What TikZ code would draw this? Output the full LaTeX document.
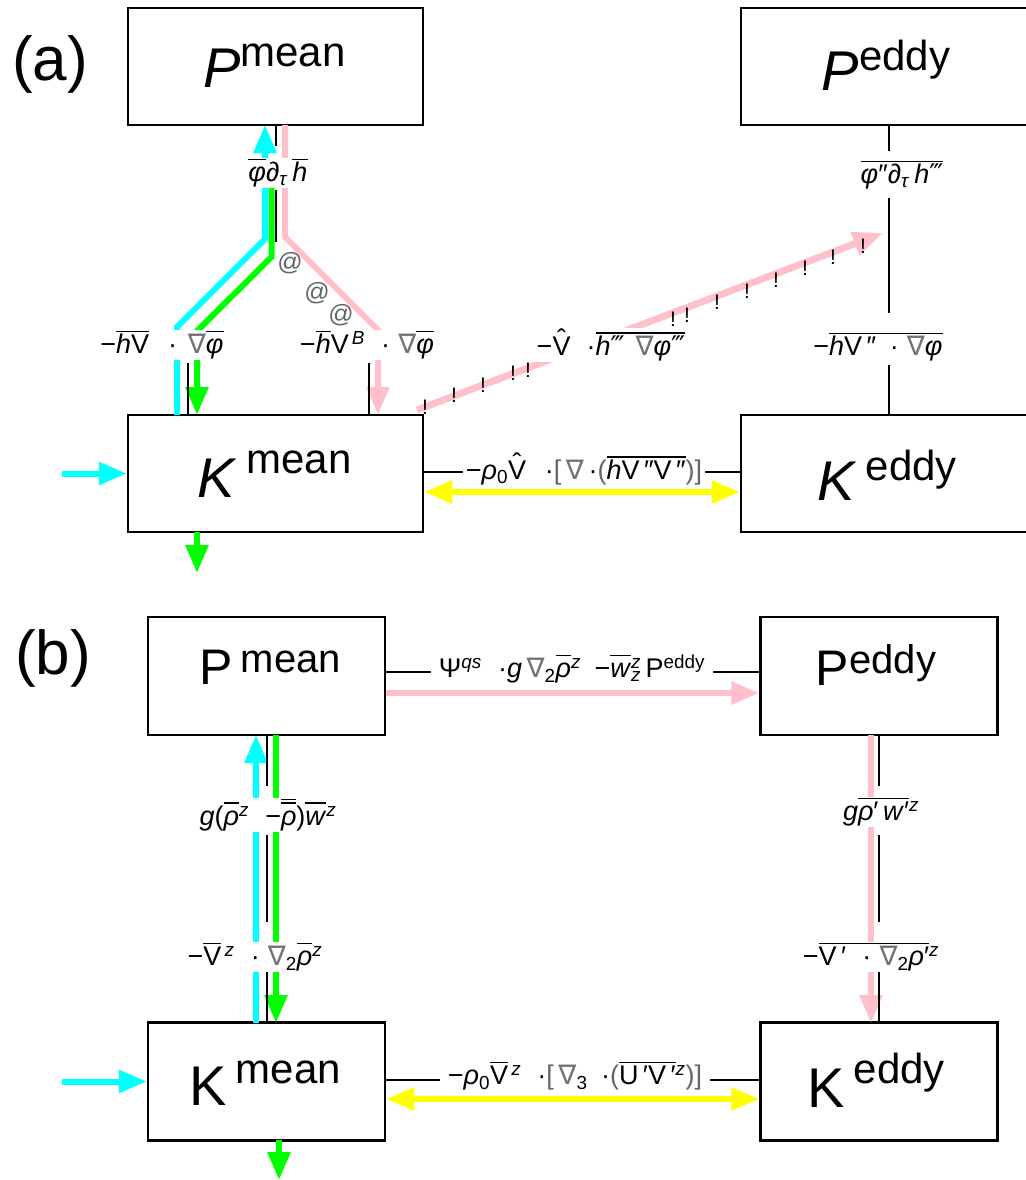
\documentclass[tikz,border=0pt]{standalone}
\usepackage{amsmath}
\usepackage{fontspec}
\setmainfont{Liberation Sans}
\newfontfamily\djfont{DejaVu Sans}
\usetikzlibrary{arrows.meta}
\definecolor{mycyan}{RGB}{0,255,255}
\definecolor{mygreen}{RGB}{0,255,0}
\definecolor{mypink}{RGB}{255,192,203}
\definecolor{myyellow}{RGB}{255,255,0}
\newcommand\ov[1]{\leavevmode\vbox{\hrule height 1.6pt\kern 2pt\hbox{\vphantom{hV}#1}}}
\newcommand\dov[1]{\leavevmode\vbox{\hrule height 1.6pt\kern 2pt\hbox{\ov{#1}}}}
\newcommand\hatv{\leavevmode\rlap{\hbox to 0.667em{\hss\raisebox{0.24em}{ˆ}\hss}}V}
\newcommand\nab{{\djfont\color{black!55}∇}}
\newcommand\tp{{\djfont ‴}}
\newcommand\BigSz{\fontsize{56}{60}\selectfont}
\newcommand\BigSzB{\fontsize{50}{54}\selectfont}
\newcommand\SupSz{\fontsize{42}{44}\selectfont}
\newcommand\SupSzB{\fontsize{40}{44}\selectfont}
\newcommand\LblSz{\fontsize{27}{30}\selectfont}
\begin{document}
\begin{tikzpicture}[x=1pt,y=-1pt,
  boxa/.style={draw,line width=2.5pt,minimum width=295pt,minimum height=117pt,inner sep=0pt},
  boxb/.style={draw,line width=2.5pt,minimum width=237pt,minimum height=118pt,inner sep=0pt},
  bigtext/.style={anchor=base,inner sep=0pt},
  lab/.style={fill=white,inner xsep=3pt,inner ysep=1pt,font=\LblSz},
  conn/.style={line width=2pt},
  flow/.style={line width=6pt,-{Triangle[length=28pt,width=22pt]}},
  flowtwo/.style={line width=6pt,{Triangle[length=28pt,width=22pt]}-{Triangle[length=28pt,width=22pt]}},
  bang/.style={font=\fontsize{21}{22}\selectfont,inner sep=0pt},
  atsign/.style={font=\fontsize{25}{26}\selectfont,text=black!60,inner sep=0pt},
  titletext/.style={font=\fontsize{62}{64}\selectfont,inner sep=0pt}
]
\useasboundingbox (0,0) rectangle (1025,1180);

% ---------------- (a) ----------------
\node[titletext] (ta) at (50,64) {(a)};
\node[boxa] (pma) at (275.5,66.5) {};
\node[boxa] (pea) at (888.5,66.5) {};
\node[boxa] (kma) at (275.5,473.5) {};
\node[boxa] (kea) at (888.5,473.5) {};
\node[bigtext] (pmat) at (274.5,88) {\BigSz\textit{P}\raisebox{21pt}{\SupSz mean}};
\node[bigtext] (peat) at (886,91) {\BigSz\textit{P}\raisebox{20pt}{\SupSz eddy}};
\node[bigtext] (kmat) at (274.5,497) {\BigSz\textit{K}\,\raisebox{24pt}{\SupSz mean}};
\node[bigtext] (keat) at (887,500) {\BigSz\textit{K}\,\raisebox{20pt}{\SupSz eddy}};

% coloured flows
\draw[flow,draw=mycyan] (177,415) -- (177,327) -- (265,239) -- (265,125);
\draw[flow,draw=mygreen] (271.5,160) -- (271.5,257) -- (197,331) -- (197,415);
\draw[flow,draw=mypink] (285,125) -- (285,237) -- (378,330) -- (378,415);
\draw[line width=7pt,draw=mypink,-{Triangle[length=30pt,width=23pt]}] (417,410) -- (883,233);
\draw[flow,draw=mycyan] (62,473.5) -- (kma.west);
\draw[flow,draw=mygreen] (197,532) -- (197,573);

% thin connectors
\draw[conn] (pma.south) -- ++(0,20);
\draw[conn] (275.5,190) -- (275.5,242);
\draw[conn] (188,363) -- (188,415);
\draw[conn] (369,363) -- (369,415);
\draw[conn] (pea.south) -- ++(0,25);
\draw[conn] (888.5,198) -- (888.5,313);
\draw[conn] (888.5,365) -- (kea.north);

% labels
\node[lab] (lt) at (278,173) {\ov{\textit{φ}}\textit{∂}\textsubscript{\textit{τ}}\,\ov{\textit{h}}};
\node[lab] (lml) at (162,345) {−\ov{\textit{h}}\ov{V}\hspace{0.7em}·\hspace{0.4em}\nab\ov{\textit{φ}}};
\node[lab] (lmr) at (367,345) {−\ov{\textit{h}}V\textsuperscript{\,\textit{B}}\hspace{0.6em}·\hspace{0.3em}\nab\ov{\textit{φ}}};
\node[lab] (ld) at (611,345) {−\hatv\hspace{0.6em}·\ov{\textit{h}\tp\hspace{0.4em}\nab\textit{φ}\tp}};
\node[lab] (ler) at (878,347) {−\ov{\textit{h}V\,″\hspace{0.5em}·\hspace{0.3em}\nab\textit{φ}}};
\node[lab] (let) at (902,175) {\ov{\textit{φ}″\textit{∂}\textsubscript{\textit{τ}}\,\textit{h}\tp}};
\node[lab] (lkk) at (584,469) {−\textit{ρ}\textsubscript{0}\hatv\hspace{0.7em}·{\color{black!60}[}\,\nab\,·{\color{black!60}(}\ov{\textit{h}V\,″V\,″}{\color{black!60})]}};
\draw[conn] (kma.east |- 0,472) -- (lkk.west |- 0,472);
\draw[conn] (lkk.east |- 0,472) -- (kea.west |- 0,472);
\draw[flowtwo,draw=myyellow] ([yshift=-18.5pt]kma.east) -- ([yshift=-18.5pt]kea.west);

% @ and ! marks
\node[atsign] (at1) at (290,263) {@};
\node[atsign] (at2) at (317,293) {@};
\node[atsign] (at3) at (341,315) {@};
\foreach \x/\y [count=\i] in {425/407,454/395,483/385,513/373,528/370,673/319,687/315,717/302,747/291,776/280,805/268,833/257,863/246}
  \node[bang] (bang\i) at (\x,\y) {!};

% ---------------- (b) ----------------
\node[titletext] (tb) at (53,658) {(b)};
\node[boxb] (pmb) at (266.5,676) {};
\node[boxb] (peb) at (879,676) {};
\node[boxb] (kmb) at (266.5,1081.5) {};
\node[boxb] (keb) at (879,1081.5) {};
\node[bigtext] (pmbt) at (270,684) {\BigSzB P\,\raisebox{12pt}{\SupSzB mean}};
\node[bigtext] (pebt) at (876,685) {\BigSzB P\raisebox{12pt}{\SupSzB eddy}};
\node[bigtext] (kmbt) at (265,1105) {\BigSz K\,\raisebox{22pt}{\SupSz mean}};
\node[bigtext] (kebt) at (876,1107) {\BigSz K\,\raisebox{24pt}{\SupSz eddy}};

% coloured flows
\draw[flow,draw=mycyan] (256,1023) -- (256,735);
\draw[flow,draw=mygreen] (276,735) -- (276,1023);
\draw[flow,draw=mypink] (871,735) -- (871,1023);
\draw[flow,draw=mycyan] (62,1081.5) -- (kmb.west);
\draw[flow,draw=mygreen] (279,1140) -- (279,1180);

% thin connectors
\draw[conn] (pmb.south) -- ++(0,50);
\draw[conn] (266.5,835) -- (266.5,922);
\draw[conn] (266.5,972) -- (kmb.north);
\draw[conn] (peb.south) -- ++(0,50);
\draw[conn] (879,835) -- (879,922);
\draw[conn] (879,972) -- (keb.north);

% labels
\node[lab,inner xsep=8pt] (lpp) at (572,669) {Ψ\textsuperscript{\textit{qs}}\hspace{0.6em}·\textit{g}\,\nab\textsubscript{2}\ov{\textit{ρ}}\textsuperscript{\textit{z}}\hspace{0.5em}−\ov{\textit{w}}\rlap{\textsuperscript{\textit{z}}}\textsubscript{\textit{z}}\,P\textsuperscript{eddy}};
\draw[conn] (pmb.east |- 0,672) -- (lpp.west |- 0,672);
\draw[conn] (lpp.east |- 0,672) -- (peb.west |- 0,672);
\draw[flow,draw=mypink] ([yshift=-17pt]pmb.east) -- ([yshift=-17pt]peb.west);
\node[lab] (lb1) at (268,815) {\textit{g}(\ov{\textit{ρ}}\textsuperscript{\textit{z}}\hspace{0.6em}−\dov{\textit{ρ}})\ov{\textit{w}}\textsuperscript{\textit{z}}};
\node[lab] (lb2) at (255,957) {−\ov{V}\textsuperscript{\,\textit{z}}\hspace{0.6em}·\hspace{0.3em}\nab\textsubscript{2}\ov{\textit{ρ}}\textsuperscript{\textit{z}}};
\node[lab] (rb1) at (881,812) {\textit{g}\ov{\textit{ρ}′\,\textit{w}′}\textsuperscript{\textit{z}}};
\node[lab] (rb2) at (871,957) {−\ov{V\,′\hspace{0.6em}·\hspace{0.3em}\nab\textsubscript{2}\textit{ρ}′}\textsuperscript{\textit{z}}};
\node[lab,inner xsep=8pt] (lkkb) at (575,1076) {−\textit{ρ}\textsubscript{0}\ov{V}\textsuperscript{\,\textit{z}}\hspace{0.6em}·{\color{black!60}[}\,\nab\textsubscript{3}\hspace{0.5em}·{\color{black!60}(}\ov{U\,′V\,′}\textsuperscript{\textit{z}}{\color{black!60})]}};
\draw[conn] (kmb.east |- 0,1080) -- (lkkb.west |- 0,1080);
\draw[conn] (lkkb.east |- 0,1080) -- (keb.west |- 0,1080);
\draw[flowtwo,draw=myyellow] ([yshift=-17.5pt]kmb.east) -- ([yshift=-17.5pt]keb.west);
\end{tikzpicture}
\end{document}
